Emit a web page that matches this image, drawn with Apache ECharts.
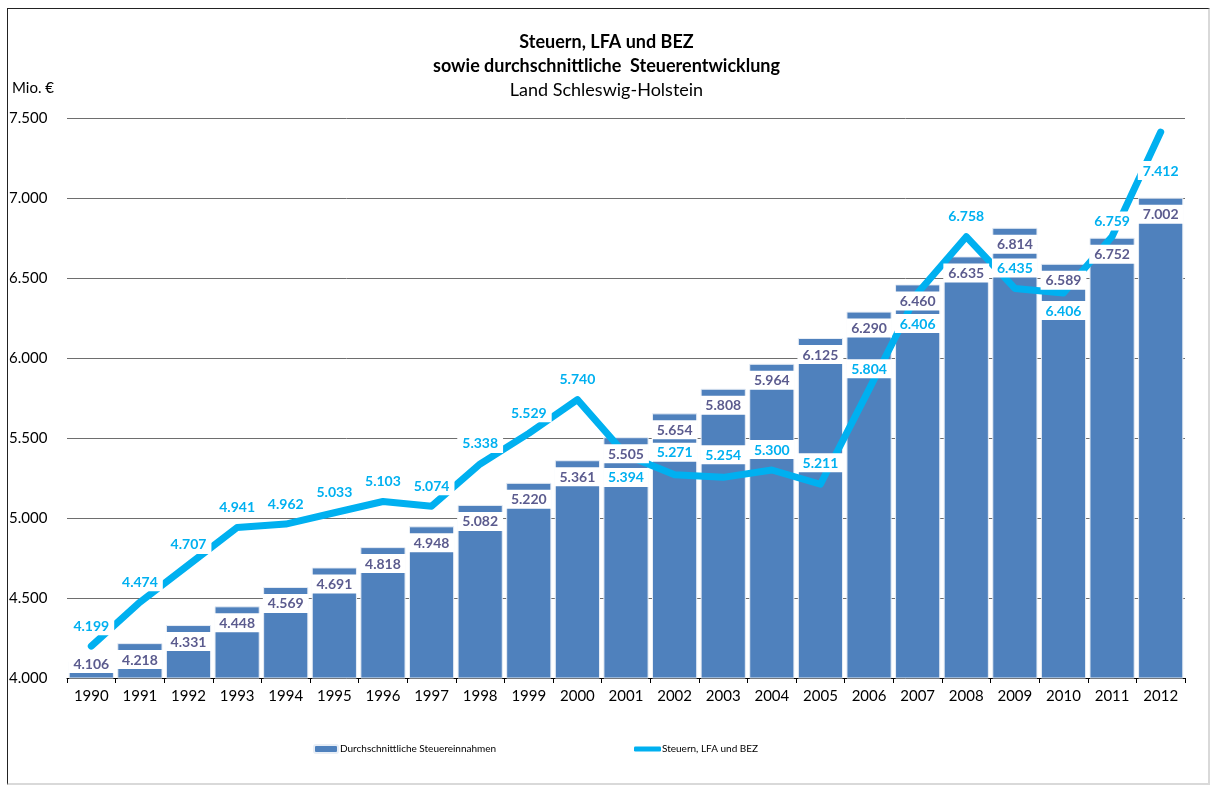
<!DOCTYPE html>
<html>
<head>
<meta charset="utf-8">
<script src="https://cdn.jsdelivr.net/npm/echarts@6/dist/echarts.min.js"></script>
<style>
  html, body { margin: 0; padding: 0; background: #fff; }
  #frame {
    position: absolute; left: 7px; top: 8px; width: 1203px; height: 777px;
    border-left: 1px solid #222; border-top: 1px solid #222;
    border-right: 2px solid #d9d9d9; border-bottom: 2px solid #d9d9d9;
    box-sizing: border-box;
  }
  #chart { position: absolute; left: 0; top: 0; width: 1213px; height: 787px; }
</style>
</head>
<body>
<div id="frame"></div>
<div id="chart"></div>
<script>
// Jahre
const years = ['1990','1991','1992','1993','1994','1995','1996','1997','1998','1999','2000',
  '2001','2002','2003','2004','2005','2006','2007','2008','2009','2010','2011','2012'];
// Durchschnittliche Steuereinnahmen (Mio. €)
const avgTax = [4106,4218,4331,4448,4569,4691,4818,4948,5082,5220,5361,
  5505,5654,5808,5964,6125,6290,6460,6635,6814,6589,6752,7002];
// Steuern, LFA und BEZ (Mio. €)
const taxLfaBez = [4199,4474,4707,4941,4962,5033,5103,5074,5338,5529,5740,
  5394,5271,5254,5300,5211,5804,6406,6758,6435,6406,6759,7412];
// Achsenbeschriftung
const yTicks = [4000, 4500, 5000, 5500, 6000, 6500, 7000, 7500];

// Lage der Linienbeschriftung (wie im Original von Hand verschoben)
const lineLabelPos = years.map(y => ['2001','2007','2010','2012'].includes(y) ? 'bottom' : 'top');
const lineLabelDist = [10,10,10,10,10,10,10,10,10,10,10, 12,12,12,10,11,10,20,10,10,7,5,28];

const fmt = v => String(v).replace(/\B(?=(\d{3})+(?!\d))/g, '.');
const FONT = 'Lato, "Open Sans", sans-serif';

const chart = echarts.init(document.getElementById('chart'));

const boxLabel = {
  show: true,
  formatter: p => fmt(p.value),
  backgroundColor: '#fff',
  padding: [2, 5, 1, 5],
  lineHeight: 16,
  fontWeight: 'bold',
  fontSize: 14,
  fontFamily: FONT
};

const option = {
  backgroundColor: 'transparent',
  textStyle: { fontFamily: FONT },
  title: {
    text: 'Steuern, LFA und BEZ\nsowie durchschnittliche  Steuerentwicklung',
    subtext: 'Land Schleswig-Holstein',
    left: 'center',
    top: 25,
    itemGap: 0,
    textStyle: { fontFamily: FONT, fontSize: 18, fontWeight: 'bold', color: '#000', lineHeight: 24 },
    subtextStyle: { fontFamily: FONT, fontSize: 18, color: '#000', lineHeight: 24 }
  },
  graphic: [{
    type: 'text', left: 12, top: 81,
    style: { text: 'Mio. €', font: '15px ' + FONT, fill: '#000' }
  }],
  legend: [
    {
      data: ['Durchschnittliche Steuereinnahmen'],
      left: 308, top: 739,
      itemWidth: 24, itemHeight: 8,
      itemGap: 4,
      textStyle: { fontFamily: FONT, fontSize: 10, color: '#000', padding: [0, 0, 0, -3] }
    },
    {
      data: [{ name: 'Steuern, LFA und BEZ', icon: 'roundRect' }],
      left: 629, top: 739,
      itemWidth: 27, itemHeight: 5,
      textStyle: { fontFamily: FONT, fontSize: 10, color: '#000', padding: [0, 0, 0, -4] }
    }
  ],
  grid: { left: 67, right: 28, top: 118, bottom: 109 },
  xAxis: {
    type: 'category',
    data: years,
    axisLine: { lineStyle: { color: '#000', width: 1 } },
    axisTick: { show: true, length: 5, lineStyle: { color: '#000' } },
    axisLabel: { color: '#000', fontSize: 15, margin: 11, fontFamily: FONT }
  },
  yAxis: {
    type: 'value',
    min: yTicks[0],
    max: yTicks[yTicks.length - 1],
    interval: 500,
    axisLine: { show: false },
    axisTick: { show: false },
    splitLine: { lineStyle: { color: '#6e6e6e', width: 1 } },
    axisLabel: {
      color: '#000', fontSize: 15, fontFamily: FONT,
      align: 'left', margin: 58,
      formatter: v => fmt(v)
    }
  },
  series: [
    {
      name: 'Durchschnittliche Steuereinnahmen',
      type: 'bar',
      data: avgTax,
      barCategoryGap: '7%',
      barGap: '-100%',
      itemStyle: { color: '#4f81bd', borderColor: '#e8eef6', borderWidth: 1 },
      z: 2
    },
    {
      name: 'Steuern, LFA und BEZ',
      type: 'line',
      data: taxLfaBez.map((v, i) => ({
        value: v,
        label: { position: lineLabelPos[i], distance: lineLabelDist[i] }
      })),
      symbol: 'circle',
      symbolSize: 2,
      showSymbol: true,
      lineStyle: { color: '#00b0f0', width: 7, cap: 'round', join: 'round' },
      itemStyle: { color: '#00b0f0' },
      label: Object.assign({}, boxLabel, { color: '#00b0f0' }),
      z: 3
    },
    {
      // unsichtbare Kopie der Balken, nur damit die Beschriftung über der Linie liegt
      name: 'Balkenbeschriftung',
      type: 'bar',
      // sehr niedrige Balken: Beschriftung vom Boden aus
      data: avgTax.map(v => (v - yTicks[0] < 200
        ? { value: v, label: { position: 'insideBottom', distance: 5 } }
        : v)),
      barCategoryGap: '7%',
      barGap: '-100%',
      itemStyle: { color: 'rgba(0,0,0,0)' },
      label: Object.assign({}, boxLabel, {
        position: 'insideTop',
        distance: 7,
        color: '#5b5b8e'
      }),
      silent: true,
      z: 4
    }
  ]
};

chart.setOption(option);
</script>
</body>
</html>
